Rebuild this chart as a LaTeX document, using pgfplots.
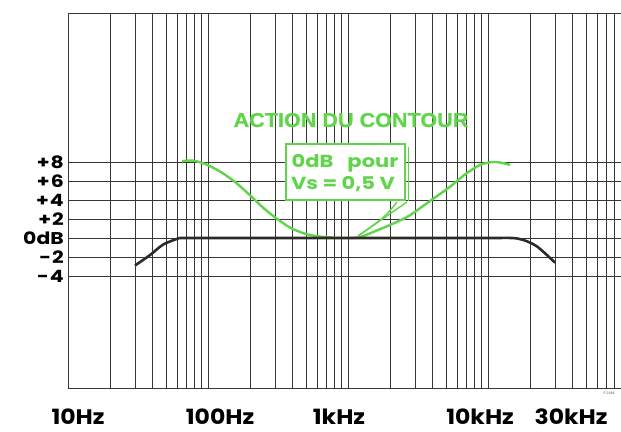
\documentclass[border=0pt]{standalone}
\usepackage{pgfplots}
\pgfplotsset{compat=1.18}
\usepackage{fontspec}
\setmainfont{Liberation Sans}
\newfontfamily\pop{Poppins}[FakeStretch=1.2]
\newfontfamily\popx{Poppins}[FakeStretch=1.12]
\newfontfamily\hb{Liberation Sans}[FakeStretch=1.08, BoldFeatures={FakeBold=0.8}]
\definecolor{cgreen}{RGB}{96,212,74}
\definecolor{cgrid}{RGB}{55,55,55}
\definecolor{ccurve}{RGB}{45,42,40}
\begin{document}
\begin{tikzpicture}[x=1pt,y=1pt]
\path[use as bounding box] (0,0) rectangle (621,431);
\begin{axis}[
  at={(68pt,43pt)}, anchor=south west,
  scale only axis, width=553pt, height=375pt,
  xmode=log, xmin=10, xmax=89000, ymin=-15.8, ymax=23.7,
  axis line style={draw=none},
  xtick={20,30,40,50,60,70,80,90,100,200,300,400,500,600,700,800,900,1000,2000,3000,4000,5000,6000,7000,8000,9000,10000,20000,30000,40000,50000,60000,70000,80000},
  xticklabels={},
  ytick={-4,-2,0,2,4,6,8},
  yticklabels={-\kern1pt 4,-\kern1pt 2,0dB,+\kern1pt 2,+\kern1pt 4,+\kern1pt 6,+\kern1pt 8},
  grid=major,
  major grid style={cgrid, line width=0.6pt},
  major tick length=0pt,
  yticklabel style={font=\pop\bfseries\fontsize{17}{17}\selectfont, anchor=east, inner sep=0pt, xshift=-4pt},
  extra x ticks={11.8,121.8,862,8770,39170},
  extra x tick labels={10Hz,100Hz,1kHz,10kHz,30kHz},
  extra x tick style={grid=none, xticklabel style={font=\popx\bfseries\fontsize{21}{21}\selectfont, anchor=base, yshift=-37pt, inner sep=0pt}},
  clip=false,
]
\draw[cgrid, line width=0.8pt] (rel axis cs:1,1) -- (rel axis cs:0,1) -- (rel axis cs:0,0) -- (rel axis cs:1,0);
\addplot[cgreen, line width=2.4pt, smooth, tension=0.5] coordinates {
 (65.2,8.1) (78.1,8.15) (95.2,7.8) (121.8,7.0) (155.9,5.9) (199.5,4.5) (247.1,3.2)
 (306,2.1) (385,1.1) (493,0.45) (631,0.15) (807,0.03) (1000,0) (1218,0.1)
 (1611,0.8) (2166,1.6) (2770,2.4) (3852,3.9) (5353,5.4) (6850,6.7) (8770,7.7)
 (10680,8.0) (12180,7.95) (14390,7.7)
};
\addplot[ccurve, line width=2.6pt, smooth, tension=0.5] coordinates {
 (30.1,-2.9) (38.5,-1.8) (47.7,-0.7) (60,-0.1) (65,0) (100,0) (1000,0) (10000,0)
 (14800,0) (17800,-0.2) (22400,-0.9) (30100,-2.6)
};
\end{axis}
% annotation
\node[cgreen, font=\hb\bfseries\fontsize{20}{20}\selectfont, anchor=base] at (351,304) {ACTION DU CONTOUR};
\draw[cgreen, line width=1.4pt] (397,229) .. controls (385,214) .. (358,195);
\draw[cgreen, line width=1.4pt] (407,229) -- (358,195);
\draw[cgreen, line width=2pt, fill=white] (286,287) rectangle (405,231);
\draw[cgreen, line width=1.2pt] (408.5,284) -- (408.5,229.5);
\node[cgreen, font=\pop\bfseries\fontsize{17.5}{17.5}\selectfont, anchor=base] at (345,263) {0dB\hspace{14pt}pour};
\node[cgreen, font=\pop\bfseries\fontsize{17.5}{17.5}\selectfont, anchor=base] at (343,241) {Vs = 0,5 V};
\node[black!70, font=\fontsize{3.5}{3.5}\selectfont, anchor=center] at (609,38) {F 2188};
\end{tikzpicture}
\end{document}
